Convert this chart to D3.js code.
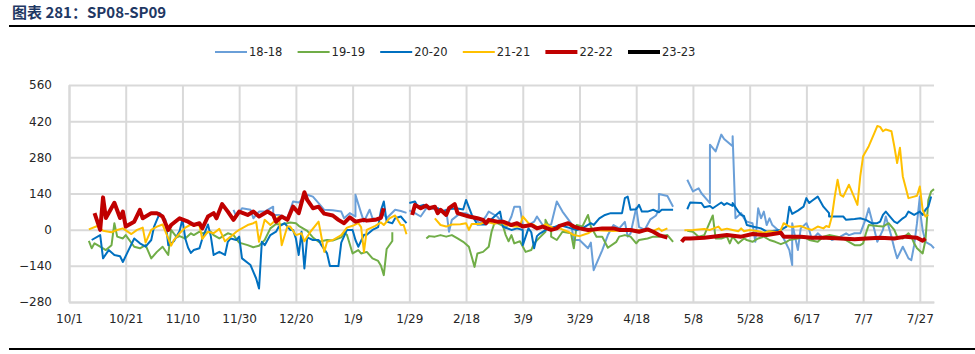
<!DOCTYPE html>
<html>
<head>
<meta charset="utf-8">
<script src="https://cdn.jsdelivr.net/npm/d3@7"></script>
<style>
body { margin: 0; background: #fff; overflow: hidden; }
text { font-family: 'DejaVu Sans', sans-serif; }
</style>
</head>
<body>
<div id="chart-container"></div>
<script>
//x-as: aantal dagen vanaf 10/1
const tickDays = [0, 20, 40, 60, 80, 100, 120, 140, 160, 180, 200, 220, 240, 260, 280, 300]
const tickLabels = ['10/1', '10/21', '11/10', '11/30', '12/20', '1/9', '1/29', '2/18', '3/9', '3/29', '4/18', '5/8', '5/28', '6/17', '7/7', '7/27']
const yTicks = [-280, -140, 0, 140, 280, 420, 560]

const seriesNames = ['18-18', '19-19', '20-20', '21-21', '22-22', '23-23']

//[dag, waarde], null = onderbreking
const s18 = [
    [58,77],[59,51],[61,83],[64,77],[65,44],[67,70],[69,70],[72,89],[72,57],[74,57],[77,44],[79,109],[81,105],[84,135],[86,128],[88,103],[90,77],[93,75],[96,70],[97,44],[99,64],[101,51],[101,135],[103,64],[104,31],[106,77],[107,44],[109,38],[111,60],[112,44],[115,77],[117,72],[119,65],
    [119,null],
    [120,75],[122,64],[124,51],[126,83],[128,83],[131,70],[133,77],[134,-8],[135,38],[138,64],[140,64],[142,51],[145,25],[147,51],[148,70],[151,51],[153,25],[154,5],[156,51],[157,89],[159,89],[160,18],[162,18],[164,31],[165,51],[167,18],[170,20],[172,109],[174,70],[177,25],[178,-40],[180,-40],[183,-72],[184,-50],[185,-157],[188,-80],[190,-21],[192,18],[194,5],[196,30],[197,-27],[198,-15],[200,85],[201,10],[203,0],[205,40],[207,55],[208,80],[208,138],[211,130],[213,89],
    [214,null],
    [218,193],[220,148],[222,160],[223,141],[226,103],[226,329],[228,303],[230,368],[231,351],[234,323],[234,362],[235,44],[237,64],[238,44],[239,31],[241,25],[242,-47],[243,83],[244,44],[245,70],[246,18],[247,44],[248,18],[250,-1],[252,-34],[254,-79],[255,-137],[255,25],[257,-79],[258,5],[260,25],[261,-1],[262,-40],[264,-14],[266,-34],[268,-27],[269,-40],[272,-27],[274,-14],[275,-21],[277,-14],[279,-14],[281,44],[282,83],[284,-1],[285,-47],[287,-1],[288,51],[290,-27],[291,-72],[292,-111],[294,-66],[296,-111],[297,-118],[298,-60],[299,25],[300,128],[300,77],[301,-1],[302,-47],[304,-60],[305,-72]
]
const s19 = [
    [7,-43],[8,-72],[9,-53],[11,-66],[13,-79],[15,-60],[16,25],[17,-27],[19,-34],[20,-21],[23,-66],[25,-72],[27,-60],[29,-111],[31,-86],[33,-66],[35,-98],[36,-1],[38,-30],[39,-25],[41,-34],[43,-14],[44,-21],[46,-8],[47,-14],[50,-8],[51,-21],[53,-34],[56,-14],[58,-21],[60,-50],[63,-60],[65,-68],[67,-62],[69,-40],[71,5],[73,22],[75,20],[78,28],[80,25],[81,15],[84,-5],[86,-30],[88,-47],[91,-40],[93,-42],[96,-30],[97,-12],[98,-20],[100,-92],[102,-79],[103,-92],[105,-86],[107,-111],[109,-121],[110,-140],[111,-176],[112,-75],[114,-44],[114,-10],
    [115,null],
    [126,-34],[127,-25],[129,-27],[131,-21],[133,-27],[135,-21],[137,-34],[139,-47],[141,-66],[142,-105],[143,-144],[144,-92],[146,-86],[148,-66],[149,-8],[150,25],[151,25],[153,15],[154,-21],[155,-45],[156,-21],[157,-53],[159,-45],[161,-86],[163,-79],[164,-53],[166,-30],[168,-8],[168,38],[170,-5],[170,-27],[172,-40],[174,-8],[177,-14],[178,-72],[179,18],[181,12],[183,57],[184,12],[186,-27],[188,-27],[190,-70],[193,-47],[194,-27],[196,-21],[198,-27],[200,-53],[201,-40],[204,-34],[206,-27],[208,-27],[211,-21],[213,-47],
    [214,null],
    [218,-4],[220,-8],[222,-27],[224,-21],[226,30],[227,55],[228,-34],[230,-34],[232,-27],[233,-53],[234,-27],[236,-53],[238,-34],[239,-40],[241,-47],[243,-34],[245,-27],[247,-40],[249,-47],[251,-56],[253,-47],[254,-40],[257,-34],[259,-27],[261,-40],[264,-47],[266,-27],[268,-21],[271,-27],[273,-34],[275,-47],[277,-60],[279,-60],[280,-53],[281,-14],[282,18],[285,14],[287,12],[289,25],[291,-1],[292,-27],[294,-34],[296,-14],[297,-27],[298,-53],[299,-72],[301,-92],[302,-40],[303,115],[304,148],[305,157]
]
const s20 = [
    [8,-40],[11,-21],[12,-111],[14,-79],[16,-98],[18,-103],[19,-125],[21,-79],[23,-34],[25,-53],[27,-66],[29,-40],[30,12],[32,64],[34,38],[35,-60],[37,-45],[39,-5],[40,40],[41,-34],[42,-70],[43,-90],[44,-79],[46,-72],[47,-35],[49,20],[50,-25],[51,-98],[53,-86],[55,-98],[56,-47],[57,-34],[59,-40],[60,-27],[61,-111],[64,-137],[66,-189],[67,-228],[68,-47],[69,-60],[71,-21],[73,-8],[74,12],[76,25],[78,-1],[79,-1],[80,-34],[81,-98],[82,-8],[83,-150],[84,-30],[86,-40],[88,-40],[89,-60],[91,-92],[92,-141],[95,-141],[96,-50],[98,-1],[100,-1],[101,-40],[102,-66],[104,-20],[105,-20],[107,-1],[109,10],[110,75],[111,109],[112,31],[114,25],[115,44],[117,51],[118,38],[119,25],
    [119,null],
    [120,103],[122,109],[123,89],[125,96],[127,89],[130,83],[132,70],[134,80],[137,82],[139,78],[140,115],[142,58],[144,20],[145,20],[147,20],[150,51],[152,70],[153,12],[156,-1],[158,5],[160,-1],[160,-60],[162,5],[163,-10],[164,-72],[165,-25],[166,-15],[169,5],[171,10],[173,18],[177,5],[179,-1],[181,5],[184,25],[185,18],[187,44],[189,57],[191,64],[195,64],[196,122],[197,128],[198,77],[200,79],[201,96],[202,70],[204,70],[206,77],[208,67],[209,77],[213,77],
    [214,null],
    [218,79],[219,105],[223,103],[224,87],[226,92],[227,83],[230,105],[231,96],[232,103],[234,92],[234,103],[236,70],[237,57],[238,53],[239,18],[241,12],[244,5],[246,-8],[248,-5],[251,-1],[253,12],[254,89],[255,61],[257,74],[259,89],[260,122],[261,103],[262,112],[264,128],[266,89],[268,64],[268,51],[271,51],[273,51],[274,38],[277,41],[279,44],[281,38],[283,25],[285,25],[286,31],[287,57],[288,70],[290,44],[291,31],[292,25],[294,44],[295,51],[296,70],[298,57],[300,70],[301,57],[302,77],[303,89],[304,128]
]
const s21 = [
    [7,1],[10,14],[12,-4],[15,-10],[17,-1],[19,5],[22,-17],[24,-1],[26,8],[27,-50],[29,-1],[31,12],[33,20],[35,-34],[36,-62],[37,-40],[39,-14],[41,8],[43,20],[46,16],[47,-36],[49,-8],[51,-14],[53,3],[55,-45],[57,-27],[59,-8],[60,-1],[63,18],[65,25],[66,31],[67,-47],[69,38],[71,18],[73,38],[74,51],[75,-60],[77,12],[78,12],[80,-21],[82,-14],[83,-45],[85,-10],[88,31],[90,-86],[91,-47],[93,-40],[96,-21],[98,8],[100,15],[102,25],[103,10],[104,-86],[105,-1],[108,15],[110,28],[111,18],[113,44],[115,55],[117,18],[118,18],[119,-18],
    [120,null],
    [129,44],[131,18],[133,12],[135,20],[138,21],[140,25],[141,-1],[142,22],[145,22],[147,31],[150,23],[152,31],[154,18],[157,12],[159,12],[160,51],[162,25],[164,18],[166,5],[168,21],[171,5],[173,5],[176,-8],[178,-21],[180,-25],[183,-14],[185,-1],[188,-3],[192,-5],[195,-3],[199,-1],[202,-3],[206,-5],[208,5],[209,-5],[211,5],
    [212,null],
    [217,-2],[220,-1],[224,3],[226,-1],[229,12],[230,-1],[232,4],[234,-1],[236,-6],[237,5],[238,-6],[240,-1],[243,-6],[245,-12],[247,-6],[250,-10],[251,-1],[252,25],[254,12],[255,10],[258,14],[260,5],[262,-1],[264,12],[266,5],[267,14],[268,10],[269,51],[270,128],[271,193],[272,135],[273,128],[275,174],[276,148],[278,96],[279,206],[280,284],[282,323],[284,375],[285,401],[286,398],[287,381],[288,388],[290,381],[291,323],[292,258],[293,317],[294,206],[296,122],[298,128],[299,131],[300,167],[301,77],[302,51],[303,57]
]
const s22 = [
    [9,64],[11,-1],[12,125],[13,45],[16,104],[18,45],[19,70],[20,12],[23,31],[25,77],[26,44],[29,64],[31,64],[33,51],[35,-1],[36,18],[39,44],[42,31],[44,18],[46,25],[47,5],[49,51],[51,64],[52,44],[54,99],[56,70],[58,38],[60,70],[63,57],[65,70],[67,51],[70,70],[72,57],[73,31],[75,51],[77,38],[79,89],[81,64],[83,145],[84,115],[86,83],[88,89],[90,62],[93,55],[95,38],[97,25],[99,48],[101,31],[104,38],[105,35],[108,38],[110,46],[111,83],
    [112,null],
    [121,57],[122,96],[124,83],[126,93],[127,83],[129,89],[130,64],[131,77],[133,57],[134,83],[136,99],[137,64],[139,57],[141,51],[144,44],[146,38],[147,25],[148,38],[151,31],[153,31],[156,18],[158,25],[160,12],[163,18],[165,5],[167,12],[170,-1],[172,5],[173,15],[176,25],[178,12],[180,5],[183,-1],[185,1],[188,5],[192,5],[194,-1],[198,-1],[201,-8],[204,1],[206,-8],[208,-21],[211,-31],
    [212,null],
    [216,-47],[217,-34],[219,-34],[224,-31],[227,-27],[232,-21],[237,-27],[241,-17],[246,-21],[251,-12],[252,-27],[258,-27],[262,-31],[267,-31],[272,-34],[277,-37],[281,-34],[286,-31],[291,-34],[295,-27],[299,-31],[301,-43],[302,-34]
]
const s23 = []

const allSeries = [s18, s19, s20, s21, s22, s23]
const colors = ['#6a9fd8', '#70ad47', '#0070c0', '#ffc000', '#c00000', '#000000']
const strokeWidths = [2, 2, 2, 2, 4, 4]

//settings
const chartContainer = d3.select('#chart-container')
const width = 975
const height = 354
const margin = { top: 85, right: 41, bottom: 52, left: 69 }
const innerWidth = width - margin.left - margin.right
const innerHeight = height - margin.top - margin.bottom

const xScale = d3.scaleLinear().domain([0, 305]).range([0, innerWidth])
const yScale = d3.scaleLinear().domain([-280, 560]).range([innerHeight, 0])

const svg = chartContainer.append('svg')
    .attr('width', width)
    .attr('height', height)
    .style('display', 'block')

//titel + lijnen
svg.append('text')
    .attr('x', 12)
    .attr('y', 18)
    .attr('fill', '#1f3864')
    .style('font-family', "'Noto Sans CJK SC', sans-serif")
    .style('font-weight', 'bold')
    .style('font-size', '15px')
    .text('图表 281：SP08-SP09')

svg.append('line')
    .attr('x1', 9).attr('x2', width)
    .attr('y1', 26).attr('y2', 26)
    .attr('stroke', '#000').attr('stroke-width', 2)

svg.append('line')
    .attr('x1', 9).attr('x2', width)
    .attr('y1', 349).attr('y2', 349)
    .attr('stroke', '#000').attr('stroke-width', 2)

const g = svg.append('g')
    .attr('transform', `translate(${margin.left}, ${margin.top})`)

//y as met gridlines
g.append('g')
    .attr('class', 'axis-y')
    .call(d3.axisLeft(yScale)
        .tickValues(yTicks)
        .tickSize(-innerWidth)
        .tickSizeOuter(0)
        .tickPadding(17))

//x as met gridlines
g.append('g')
    .attr('class', 'axis-x')
    .attr('transform', `translate(0, ${innerHeight})`)
    .call(d3.axisBottom(xScale)
        .tickValues(tickDays)
        .tickFormat((d, i) => tickLabels[i])
        .tickSize(-innerHeight)
        .tickSizeOuter(0)
        .tickPadding(12))

g.selectAll('.axis-x line, .axis-y line, .axis-x path, .axis-y path')
    .attr('stroke', '#d9d9d9')
    .attr('stroke-width', 2)

g.selectAll('.axis-x text, .axis-y text')
    .attr('fill', '#262626')
    .style('font-size', '12px')

//lijnen
const line = d3.line()
    .defined(d => d[1] !== null)
    .x(d => xScale(d[0]))
    .y(d => yScale(d[1]))

allSeries.forEach((data, i) => {
    g.append('path')
        .datum(data)
        .attr('fill', 'none')
        .attr('stroke', colors[i])
        .attr('stroke-width', strokeWidths[i])
        .attr('stroke-linejoin', 'round')
        .attr('d', line)
})

//legenda
const legend = svg.append('g')
    .attr('transform', 'translate(215, 52)')

const items = legend.selectAll('g')
    .data(seriesNames)
    .enter()
    .append('g')
    .attr('transform', (d, i) => `translate(${i * 82.6}, 0)`)

items.append('line')
    .attr('x1', 0).attr('x2', 32)
    .attr('stroke', (d, i) => colors[i])
    .attr('stroke-width', (d, i) => strokeWidths[i])

items.append('text')
    .attr('x', 34)
    .attr('dy', '0.36em')
    .attr('fill', '#262626')
    .style('font-size', '11.5px')
    .text(d => d)
</script>
</body>
</html>
